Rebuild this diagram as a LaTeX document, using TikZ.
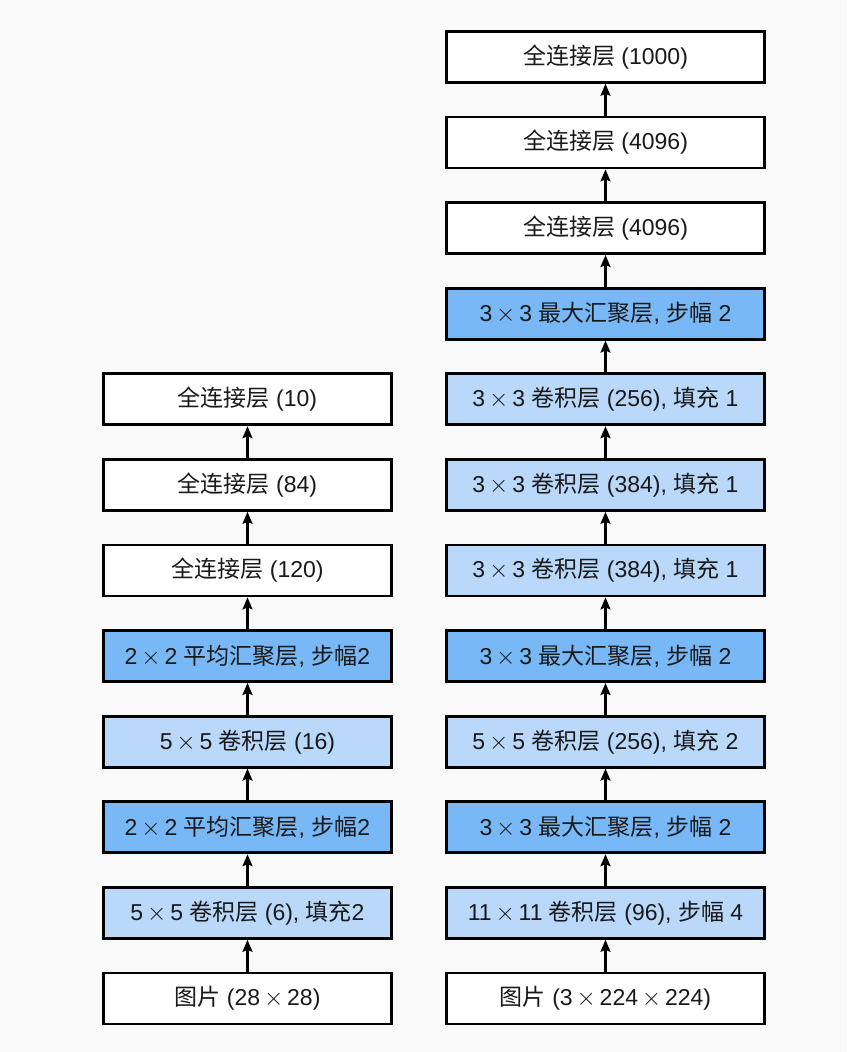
\documentclass[tikz,border=0pt]{standalone}
\usepackage{fontspec}
\setmainfont{Liberation Sans}
\newfontfamily\cjk{Noto Sans CJK SC}
\usetikzlibrary{arrows.meta}
\definecolor{bgc}{HTML}{F9F9F9}
\definecolor{darkb}{HTML}{79B8F6}
\definecolor{lightb}{HTML}{B9D8FA}
\newcommand{\C}[1]{{\cjk #1}}
\newcommand{\X}{\,$\times$\,}
\tikzset{
  layer/.style={draw=black, line width=2.8pt, minimum height=51pt, inner sep=0pt,
    font=\fontsize{23}{27}\selectfont, text=black!90},
  lnet/.style={layer, minimum width=288pt},
  anet/.style={layer, minimum width=318pt},
  plain/.style={fill=white},
  conv/.style={fill=lightb},
  pool/.style={fill=darkb},
  flow/.style={line width=2.2pt, -{Stealth[length=12pt,width=10pt,inset=2pt]}},
}
\begin{document}
\begin{tikzpicture}[x=1pt,y=-1pt]
\fill[bgc] (0,0) rectangle (846,1052);
\useasboundingbox (0,0) rectangle (846,1052);
% LeNet
\node[lnet,plain] (l1) at (247.5,998.5) {\C{图片} (28\X 28)};
\node[lnet,conv]  (l2) at (247.5,912.9) {5\X 5 \C{卷积层} (6), \C{填充}2};
\node[lnet,pool]  (l3) at (247.5,827.3) {2\X 2 \C{平均汇聚层}, \C{步幅}2};
\node[lnet,conv]  (l4) at (247.5,741.7) {5\X 5 \C{卷积层} (16)};
\node[lnet,pool]  (l5) at (247.5,656.1) {2\X 2 \C{平均汇聚层}, \C{步幅}2};
\node[lnet,plain] (l6) at (247.5,570.5) {\C{全连接层} (120)};
\node[lnet,plain] (l7) at (247.5,484.9) {\C{全连接层} (84)};
\node[lnet,plain] (l8) at (247.5,399.3) {\C{全连接层} (10)};
% AlexNet
\node[anet,plain] (a1)  at (605.5,998.5) {\C{图片} (3\X 224\X 224)};
\node[anet,conv]  (a2)  at (605.5,912.9) {11\X 11 \C{卷积层} (96), \C{步幅} 4};
\node[anet,pool]  (a3)  at (605.5,827.3) {3\X 3 \C{最大汇聚层}, \C{步幅} 2};
\node[anet,conv]  (a4)  at (605.5,741.7) {5\X 5 \C{卷积层} (256), \C{填充} 2};
\node[anet,pool]  (a5)  at (605.5,656.1) {3\X 3 \C{最大汇聚层}, \C{步幅} 2};
\node[anet,conv]  (a6)  at (605.5,570.5) {3\X 3 \C{卷积层} (384), \C{填充} 1};
\node[anet,conv]  (a7)  at (605.5,484.9) {3\X 3 \C{卷积层} (384), \C{填充} 1};
\node[anet,conv]  (a8)  at (605.5,399.3) {3\X 3 \C{卷积层} (256), \C{填充} 1};
\node[anet,pool]  (a9)  at (605.5,313.7) {3\X 3 \C{最大汇聚层}, \C{步幅} 2};
\node[anet,plain] (a10) at (605.5,228.1) {\C{全连接层} (4096)};
\node[anet,plain] (a11) at (605.5,142.5) {\C{全连接层} (4096)};
\node[anet,plain] (a12) at (605.5,56.9)  {\C{全连接层} (1000)};
\foreach \i [evaluate=\i as \j using int(\i+1)] in {1,...,7}
  \draw[flow] (l\i.north) -- (l\j.south);
\foreach \i [evaluate=\i as \j using int(\i+1)] in {1,...,11}
  \draw[flow] (a\i.north) -- (a\j.south);
\end{tikzpicture}
\end{document}
